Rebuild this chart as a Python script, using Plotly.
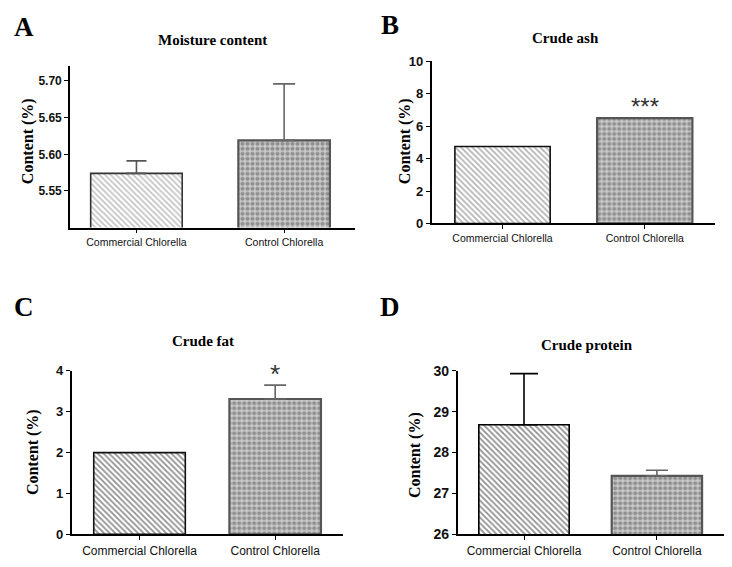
import plotly.graph_objects as go

W, H = 732, 567

categories = ["Commercial Chlorella", "Control Chlorella"]

moisture_mean = [5.574, 5.619]
moisture_err = [0.017, 0.077]

ash_mean = [4.75, 6.50]
ash_err = [0.0, 0.0]

fat_mean = [2.0, 3.31]
fat_err = [0.0, 0.34]

protein_mean = [28.68, 27.43]
protein_err = [1.25, 0.14]

titles = ["Moisture content", "Crude ash", "Crude fat", "Crude protein"]
letters = ["A", "B", "C", "D"]
y_title = "Content (%)"
sig_labels = ["", "***", "*", ""]

moisture_ticks = [5.55, 5.60, 5.65, 5.70]
ash_ticks = [0, 2, 4, 6, 8, 10]
fat_ticks = [0, 1, 2, 3, 4]
protein_ticks = [26, 27, 28, 29, 30]


def px_x(x):
    return x / W


def px_y(y):
    return 1 - y / H


panels = [
    dict(means=moisture_mean, errs=moisture_err, ticks=moisture_ticks, tickfmt=".2f",
         yrange=[5.50, 5.72], xrange=[-0.45, 1.48], width=0.62,
         box=(70, 355, 60, 226), xfs=10.5, yfs=12, hatch_fg="#8a8a8a", hatch_border="#333333",
         err_cols=["#555555", "#666666"], capw=[10, 11], sig_off=0.07, sig_fs=24),
    dict(means=ash_mean, errs=ash_err, ticks=ash_ticks, tickfmt="d",
         yrange=[0, 10], xrange=[-0.498, 1.494], width=0.67,
         box=(431.7, 715, 55, 221.7), xfs=10.5, yfs=13, hatch_fg="#6a6a6a", hatch_border="#111111",
         err_cols=["#333333", "#666666"], capw=[10, 10], sig_off=0.07, sig_fs=24),
    dict(means=fat_mean, errs=fat_err, ticks=fat_ticks, tickfmt="d",
         yrange=[0, 4], xrange=[-0.50, 1.50], width=0.675,
         box=(71.7, 343, 373.3, 541.7), xfs=12, yfs=13, hatch_fg="#222222", hatch_border="#111111",
         err_cols=["#333333", "#666666"], capw=[11, 11], sig_off=0.068, sig_fs=26),
    dict(means=protein_mean, errs=protein_err, ticks=protein_ticks, tickfmt="d",
         yrange=[26, 30], xrange=[-0.499, 1.505], width=0.68,
         box=(457.7, 724, 373.3, 541.7), xfs=12, yfs=14, hatch_fg="#222222", hatch_border="#000000",
         err_cols=["#000000", "#666666"], capw=[14, 11], sig_off=0.07, sig_fs=24),
]

fig = go.Figure()
layout = dict(
    width=W, height=H, margin=dict(l=0, r=0, t=0, b=0),
    paper_bgcolor="white", plot_bgcolor="white", showlegend=False,
    annotations=[],
)

title_pos = [(212, 33), (565, 31), (203, 343), (587, 347)]
letter_pos = [(24, 20), (390, 18), (24, 308), (390, 308)]
ytitle_pos = [(28, 137), (405, 137), (33, 457), (415, 460)]

for i, p in enumerate(panels):
    n = "" if i == 0 else str(i + 1)
    xa, ya = "x" + n, "y" + n
    x0, x1, yt, yb = p["box"]
    xs = [0, 1]
    # commercial (hatched)
    fig.add_trace(go.Bar(
        x=[xs[0]], y=[p["means"][0]], width=p["width"], xaxis=xa, yaxis=ya,
        marker=dict(color="white", line=dict(color=p["hatch_border"], width=1.6),
                    pattern=dict(shape="\\", fgcolor=p["hatch_fg"], bgcolor="white",
                                 size=4, solidity=0.45)),
        error_y=dict(type="data", symmetric=False, array=[p["errs"][0]], arrayminus=[0],
                     visible=p["errs"][0] > 0, color=p["err_cols"][0], thickness=1.6,
                     width=p["capw"][0]),
    ))
    # control (checkered)
    fig.add_trace(go.Bar(
        x=[xs[1]], y=[p["means"][1]], width=p["width"], xaxis=xa, yaxis=ya,
        marker=dict(color="#cbcbcb", line=dict(color="#555555", width=2.2),
                    pattern=dict(shape=".", fgcolor="#555555",
                                 size=5, solidity=0.55, fillmode="overlay")),
        error_y=dict(type="data", symmetric=False, array=[p["errs"][1]], arrayminus=[0],
                     visible=p["errs"][1] > 0, color=p["err_cols"][1], thickness=1.6,
                     width=p["capw"][1]),
    ))
    layout["xaxis" + n] = dict(
        domain=[px_x(x0), px_x(x1)], anchor=ya, range=p["xrange"],
        tickvals=xs, ticktext=categories, showline=True, linecolor="black", linewidth=1.6,
        ticks="outside", ticklen=4, tickwidth=1.4, tickcolor="black",
        showgrid=False, zeroline=False, fixedrange=True,
        tickfont=dict(family="Liberation Sans, Arial", size=p["xfs"], color="#111111"),
    )
    layout["yaxis" + n] = dict(
        domain=[px_y(yb), px_y(yt)], anchor=xa, range=p["yrange"],
        tickvals=p["ticks"], tickformat=p["tickfmt"], showline=True, linecolor="black",
        linewidth=1.6, ticks="outside", ticklen=4, tickwidth=1.4, tickcolor="black",
        showgrid=False, zeroline=False, fixedrange=True,
        tickfont=dict(family="Liberation Sans, Arial", size=p["yfs"], color="#111111", weight="bold"),
    )
    tx, ty = title_pos[i]
    layout["annotations"].append(dict(
        text="<b>" + titles[i] + "</b>", x=px_x(tx), y=px_y(ty), xref="paper", yref="paper",
        showarrow=False, xanchor="center", yanchor="middle",
        font=dict(family="Liberation Serif, Times New Roman", size=15, color="black")))
    lx, ly = letter_pos[i]
    layout["annotations"].append(dict(
        text="<b>" + letters[i] + "</b>", x=px_x(lx), y=px_y(ly), xref="paper", yref="paper",
        showarrow=False, xanchor="center", yanchor="middle",
        font=dict(family="Liberation Serif, Times New Roman", size=27, color="black")))
    yx, yy = ytitle_pos[i]
    layout["annotations"].append(dict(
        text="<b>" + y_title + "</b>", x=px_x(yx), y=px_y(yy), xref="paper", yref="paper",
        showarrow=False, xanchor="center", yanchor="middle", textangle=-90,
        font=dict(family="Liberation Serif, Times New Roman", size=16, color="black")))
    if sig_labels[i]:
        top = p["means"][1] + p["errs"][1]
        span = p["yrange"][1] - p["yrange"][0]
        layout["annotations"].append(dict(
            text=sig_labels[i], x=1, y=top + span * p["sig_off"], xref=xa, yref=ya,
            showarrow=False, xanchor="center", yanchor="middle",
            font=dict(family="Liberation Sans, Arial", size=p["sig_fs"], color="#333333")))

fig.update_layout(**layout)
fig.write_html("out.html")
